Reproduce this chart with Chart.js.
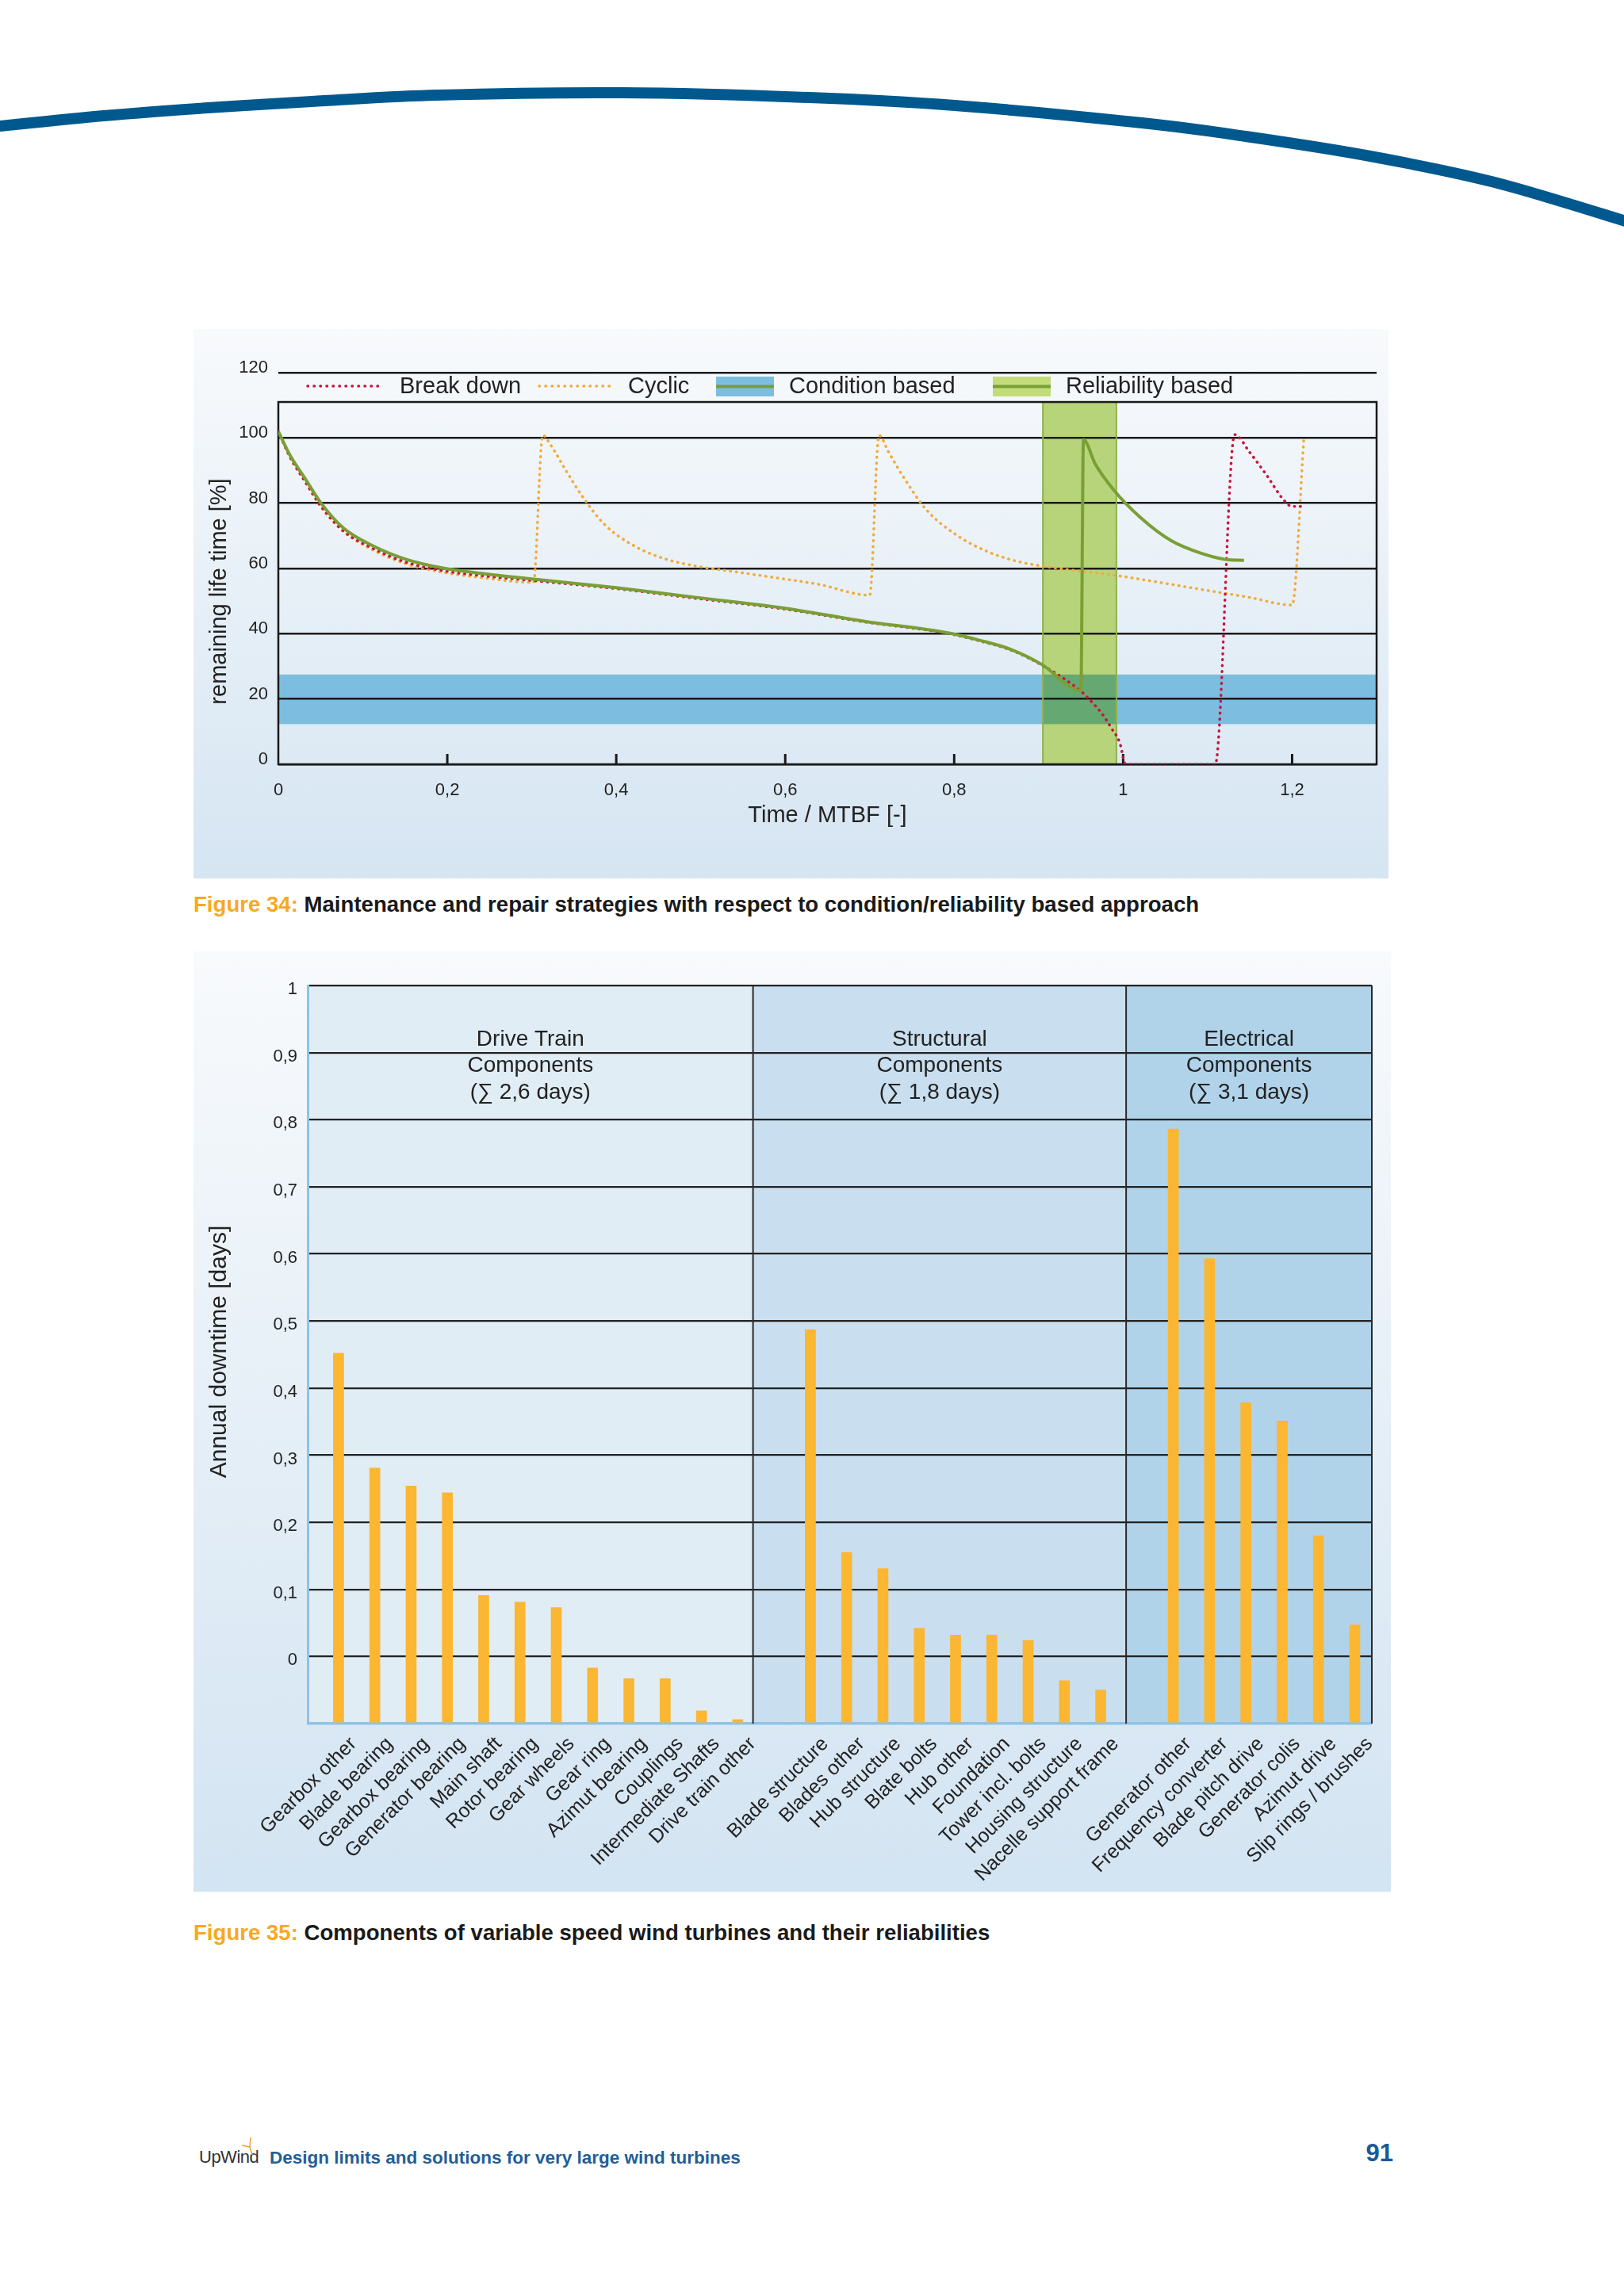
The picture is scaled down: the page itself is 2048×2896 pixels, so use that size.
<!DOCTYPE html>
<html>
<head>
<meta charset="utf-8">
<script src="https://cdn.jsdelivr.net/npm/chart.js@4.4.1/dist/chart.umd.min.js"></script>
<style>
  html, body { margin: 0; padding: 0; background: #fff; }
  body { width: 2048px; height: 2896px; position: relative; overflow: hidden;
         font-family: "Liberation Sans", Arial, sans-serif; }
  .panel { position: absolute; }
  #p1 { left: 244px; top: 415px; width: 1507px; height: 693px; background: linear-gradient(#f8fafc, #d5e5f2); }
  #p2 { left: 244px; top: 1200px; width: 1510px; height: 1186px; background: linear-gradient(#f8fafc, #d3e4f2); }
  .cap { position: absolute; left: 244px; font-size: 27.6px; font-weight: bold; color: #1a1a1a;
         white-space: nowrap; line-height: 1; }
  .cap span { color: #f7a823; }
  #foot { position: absolute; left: 340px; top: 2711px; font-size: 22.5px; font-weight: bold;
          color: #1f5e99; white-space: nowrap; line-height: 1; }
  #logo { position: absolute; left: 251px; top: 2710px; font-family: "Liberation Sans Narrow", "Liberation Sans", sans-serif;
          font-size: 22px; color: #333; line-height: 1; letter-spacing: -0.5px; }
  #page { position: absolute; right: 291px; top: 2700px; font-size: 31px; font-weight: bold; color: #1b5a96; line-height: 1; }
</style>
</head>
<body>
<svg width="2048" height="320" style="position:absolute;left:0;top:0">
  <path id="arc" fill="none" stroke="#00598e" stroke-width="14"/>
</svg>

<div class="panel" id="p1"><canvas id="lifeChart"></canvas></div>
<div class="cap" style="top:1127px"><span>Figure 34:</span> Maintenance and repair strategies with respect to condition/reliability based approach</div>

<div class="panel" id="p2"><canvas id="downtimeChart"></canvas></div>
<div class="cap" style="top:2424px"><span>Figure 35:</span> Components of variable speed wind turbines and their reliabilities</div>

<div id="logo">UpWind</div>
<svg width="30" height="30" style="position:absolute;left:300px;top:2694px">
  <path d="M16 2 L15 14 M15 14 L5 12 M15 14 L18 24" stroke="#f0a030" stroke-width="1.5" fill="none"/>
</svg>
<div id="foot">Design limits and solutions for very large wind turbines</div>
<div id="page">91</div>

<script>
// ---------- Figure 34: remaining life time ----------
const timeTicks = [0, 0.2, 0.4, 0.6, 0.8, 1, 1.2];
const lifeTicks = [0, 20, 40, 60, 80, 100, 120];
const conditionBand = [12.3, 27.5];        // remaining life range [%]
const reliabilityWindow = [0.905, 0.992];  // Time / MTBF

const breakdownX = [0, 0.014, 0.032, 0.05, 0.077, 0.113, 0.15, 0.195, 0.24, 0.3, 0.4, 0.495, 0.595, 0.694, 0.794,
  0.83, 0.867, 0.903, 0.95, 0.961, 0.975, 0.986, 0.996, 1.003, 1.109, 1.132, 1.15, 1.17, 1.19, 1.2, 1.21];
const breakdownY = [102, 94, 86.5, 79.2, 71.5, 66, 62, 59.3, 57.8, 56.3, 53.8, 50.8, 47.7, 43.6, 40,
  37.8, 35, 30.5, 22.4, 19.6, 15.5, 11.1, 6.6, 0, 0, 101, 95.5, 88.5, 81, 79, 79];

const cyclicX = [0, 0.014, 0.032, 0.05, 0.077, 0.113, 0.15, 0.195, 0.24, 0.302, 0.313, 0.322, 0.34, 0.359, 0.386,
  0.422, 0.458, 0.495, 0.54, 0.585, 0.64, 0.7, 0.711, 0.722, 0.74, 0.767, 0.803, 0.84, 0.876, 0.921,
  0.985, 1.039, 1.094, 1.148, 1.2, 1.214];
const cyclicY = [102, 94, 86.5, 79, 71.3, 65.5, 61.5, 58.8, 57.2, 55.7, 100.8, 98, 90.2, 82.4, 73.5,
  66.8, 62.9, 60.7, 59, 57.3, 55.1, 51.8, 100.8, 95.8, 88, 78, 70.2, 65.1, 62.1, 60.1,
  58.1, 55.9, 53.5, 51.2, 48.8, 100.2];

const reliabilityX = [0, 0.014, 0.032, 0.05, 0.077, 0.113, 0.15, 0.195, 0.24, 0.3, 0.4, 0.495, 0.595, 0.694, 0.794,
  0.83, 0.867, 0.903, 0.95, 0.953, 0.967, 0.989, 1.021, 1.057, 1.094, 1.12, 1.143];
const reliabilityY = [102, 94.6, 87.4, 80.2, 72.4, 66.8, 62.9, 60.1, 58.5, 56.8, 54.1, 51.1, 48, 43.8, 40.2,
  38, 35.2, 30.7, 22.6, 99.5, 92, 84, 75.5, 68.5, 64.5, 62.8, 62.5];

// ---------- Figure 35: annual downtime ----------
const driveLabels = ['Gearbox other', 'Blade bearing', 'Gearbox bearing', 'Generator bearing', 'Main shaft',
  'Rotor bearing', 'Gear wheels', 'Gear ring', 'Azimut bearing', 'Couplings', 'Intermediate Shafts', 'Drive train other'];
const driveValues = [0.452, 0.281, 0.254, 0.244, 0.091, 0.081, 0.073, -0.017, -0.033, -0.033, -0.081, -0.094];
const structuralLabels = ['Blade structure', 'Blades other', 'Hub structure', 'Blate bolts', 'Hub other',
  'Foundation', 'Tower incl. bolts', 'Housing structure', 'Nacelle support frame'];
const structuralValues = [0.487, 0.155, 0.131, 0.042, 0.032, 0.032, 0.024, -0.036, -0.05];
const electricalLabels = ['Generator other', 'Frequency converter', 'Blade pitch drive', 'Generator colis',
  'Azimut drive', 'Slip rings / brushes'];
const electricalValues = [0.786, 0.593, 0.378, 0.351, 0.18, 0.047];
const sectionTitles = [
  ['Drive Train', 'Components', '(\u2211 2,6 days)'],
  ['Structural', 'Components', '(\u2211 1,8 days)'],
  ['Electrical', 'Components', '(\u2211 3,1 days)'],
];
const downtimeTicks = [0, 0.1, 0.2, 0.3, 0.4, 0.5, 0.6, 0.7, 0.8, 0.9, 1];

const FONT = '"Liberation Sans", Arial, sans-serif';
const TEXT = '#222';
Chart.defaults.font.family = FONT;
Chart.defaults.color = TEXT;

const comma = v => String(Math.round(v * 10) / 10).replace('.', ',');
const pts = (xs, ys) => xs.map((x, i) => ({ x, y: ys[i] }));

// decorative page arc
(function () {
  const p = [[-10, 160], [131, 146], [262, 136], [393, 128], [550, 120], [785, 117], [1021, 123], [1204, 133],
    [1440, 155], [1571, 172], [1728, 197], [1885, 230], [2060, 282]];
  let d = `M${p[0][0]},${p[0][1]}`;
  for (let i = 0; i < p.length - 1; i++) {
    const a = p[Math.max(i - 1, 0)], b = p[i], c = p[i + 1], e = p[Math.min(i + 2, p.length - 1)];
    d += ` C${b[0] + (c[0] - a[0]) / 6},${b[1] + (c[1] - a[1]) / 6} ${c[0] - (e[0] - b[0]) / 6},${c[1] - (e[1] - b[1]) / 6} ${c[0]},${c[1]}`;
  }
  document.getElementById('arc').setAttribute('d', d);
})();

// ---------- chart 1 ----------
const FRAME_TOP = 111;

const lifePlugin = {
  id: 'lifePlot',
  beforeDraw(chart) {
    const { ctx, scales: { x, y } } = chart;
    const bTop = y.getPixelForValue(conditionBand[1]), bBot = y.getPixelForValue(conditionBand[0]);
    const wTop = y.getPixelForValue(FRAME_TOP), wBot = y.getPixelForValue(0);
    const l = x.getPixelForValue(reliabilityWindow[0]), r = x.getPixelForValue(reliabilityWindow[1]);
    ctx.save();
    ctx.fillStyle = '#7dbde0';
    ctx.fillRect(x.left, bTop, x.right - x.left, bBot - bTop);
    ctx.fillStyle = '#b8d47b';
    ctx.fillRect(l, wTop, r - l, wBot - wTop);
    ctx.fillStyle = '#66a872';
    ctx.fillRect(l, bTop, r - l, bBot - bTop);
    ctx.restore();
  },
  beforeDatasetsDraw(chart) {
    const { ctx, scales: { x, y } } = chart;
    const top = y.getPixelForValue(FRAME_TOP), bottom = y.getPixelForValue(0);
    const l = x.getPixelForValue(reliabilityWindow[0]), r = x.getPixelForValue(reliabilityWindow[1]);
    ctx.save();
    ctx.strokeStyle = '#8fb04c';
    ctx.lineWidth = 2;
    ctx.strokeRect(l, top, r - l, bottom - top);
    ctx.strokeStyle = '#1a1a1a';
    ctx.lineWidth = 2.5;
    ctx.strokeRect(x.left, top, x.right - x.left, bottom - top);
    ctx.lineWidth = 3;
    timeTicks.slice(1).forEach(v => {
      const px = x.getPixelForValue(v);
      ctx.beginPath();
      ctx.moveTo(px, bottom);
      ctx.lineTo(px, bottom - 13);
      ctx.stroke();
    });
    ctx.restore();
  },
  afterDraw(chart) {
    const { ctx, chartArea } = chart;
    const ly = 72;
    ctx.save();
    ctx.font = '29px ' + FONT;
    ctx.fillStyle = TEXT;
    ctx.textBaseline = 'middle';
    // dotted samples
    ctx.lineWidth = 3.5;
    ctx.lineCap = 'round';
    ctx.setLineDash([0.5, 7.5]);
    [['#c8143c', 144], ['#f2aa3a', 436]].forEach(([c, x0]) => {
      ctx.strokeStyle = c;
      ctx.beginPath(); ctx.moveTo(x0, ly); ctx.lineTo(x0 + 96, ly); ctx.stroke();
    });
    ctx.setLineDash([]);
    ctx.lineCap = 'butt';
    [['#7dbde0', 659], ['#c3dc78', 1008]].forEach(([c, x0]) => {
      ctx.fillStyle = c;
      ctx.fillRect(x0, ly - 12, 73, 25);
      ctx.strokeStyle = '#779f38';
      ctx.lineWidth = 4;
      ctx.beginPath(); ctx.moveTo(x0, ly + 0.5); ctx.lineTo(x0 + 73, ly + 0.5); ctx.stroke();
    });
    ctx.fillStyle = TEXT;
    ctx.fillText('Break down', 260, ly + 1);
    ctx.fillText('Cyclic', 548, ly + 1);
    ctx.fillText('Condition based', 751, ly + 1);
    ctx.fillText('Reliability based', 1100, ly + 1);
    // axis titles
    ctx.textAlign = 'center';
    ctx.fillText('Time / MTBF [-]', (chartArea.left + chartArea.right) / 2, 614);
    ctx.translate(33, 331);
    ctx.rotate(-Math.PI / 2);
    ctx.fillText('remaining life time [%]', 0, 0);
    ctx.restore();
  }
};

new Chart(document.getElementById('lifeChart'), {
  type: 'line',
  data: {
    datasets: [
      { label: 'Reliability based', data: pts(reliabilityX, reliabilityY), borderColor: '#7a9f35', borderWidth: 4 },
      { label: 'Break down', data: pts(breakdownX, breakdownY), borderColor: '#c8143c', borderWidth: 3.5,
        borderDash: [0.5, 7], borderCapStyle: 'round' },
      { label: 'Cyclic', data: pts(cyclicX, cyclicY), borderColor: '#f2aa3a', borderWidth: 3.5,
        borderDash: [0.5, 7], borderCapStyle: 'round' },
    ],
  },
  options: {
    responsive: true,
    maintainAspectRatio: false,
    animation: false,
    layout: { padding: { left: 0, top: 55, right: 15, bottom: 44 } },
    elements: { point: { radius: 0 }, line: { cubicInterpolationMode: 'monotone', fill: false } },
    plugins: { legend: { display: false }, tooltip: { enabled: false } },
    scales: {
      x: {
        type: 'linear', min: 0, max: 1.3,
        grid: { display: false }, border: { display: false },
        afterBuildTicks: s => { s.ticks = timeTicks.map(v => ({ value: v })); },
        afterFit: s => { s.height = 100; },
        ticks: { callback: comma, padding: 12, font: { size: 22 }, maxRotation: 0 },
      },
      y: {
        min: 0, max: 120,
        afterBuildTicks: s => { s.ticks = lifeTicks.map(v => ({ value: v })); },
        afterFit: s => { s.width = 107; },
        grid: { color: '#1a1a1a', lineWidth: 2.5, drawTicks: false },
        border: { display: false },
        ticks: { padding: 13, font: { size: 22 }, labelOffset: -6 },
      },
    },
  },
  plugins: [lifePlugin],
});

// ---------- chart 2 ----------
const groups = [driveLabels, structuralLabels, electricalLabels];
const groupValues = [driveValues, structuralValues, electricalValues];
const barLabels = [], barPoints = [];
let slot = 0;
groups.forEach((labels, g) => {
  labels.forEach((name, i) => {
    barLabels.push({ x: slot, name });
    barPoints.push({ x: slot, y: groupValues[g][i] });
    slot++;
  });
  slot++; // empty slot between groups
});
const sectionEdges = [-0.85, 11.42, 21.7, 28.47];
const sectionFills = ['#e1edf5', '#c9dff0', '#b1d3ea'];

const downtimePlugin = {
  id: 'downtimePlot',
  beforeDraw(chart) {
    const { ctx, chartArea: a, scales: { x } } = chart;
    ctx.save();
    sectionFills.forEach((c, i) => {
      const l = x.getPixelForValue(sectionEdges[i]), r = x.getPixelForValue(sectionEdges[i + 1]);
      ctx.fillStyle = c;
      ctx.fillRect(l, a.top, r - l, a.bottom - a.top);
    });
    ctx.restore();
  },
  beforeDatasetsDraw(chart) {
    const { ctx, chartArea: a, scales: { x } } = chart;
    ctx.save();
    ctx.strokeStyle = '#2a2a2a';
    ctx.lineWidth = 2;
    sectionEdges.slice(1).forEach(v => {
      const px = x.getPixelForValue(v);
      ctx.beginPath(); ctx.moveTo(px, a.top); ctx.lineTo(px, a.bottom); ctx.stroke();
    });
    ctx.font = '28px ' + FONT;
    ctx.fillStyle = TEXT;
    ctx.textAlign = 'center';
    ctx.textBaseline = 'middle';
    sectionTitles.forEach((lines, i) => {
      const cx = (x.getPixelForValue(sectionEdges[i]) + x.getPixelForValue(sectionEdges[i + 1])) / 2;
      lines.forEach((t, k) => ctx.fillText(t, cx, 111 + k * 33.5));
    });
    ctx.restore();
  },
  afterDraw(chart) {
    const { ctx, chartArea: a, scales: { x } } = chart;
    ctx.save();
    ctx.font = '25px ' + FONT;
    ctx.fillStyle = TEXT;
    ctx.textAlign = 'right';
    ctx.textBaseline = 'top';
    barLabels.forEach(b => {
      ctx.save();
      ctx.translate(x.getPixelForValue(b.x) + 10, a.bottom + 13);
      ctx.rotate(-Math.PI / 4);
      ctx.fillText(b.name, 0, 0);
      ctx.restore();
    });
    ctx.font = '30px ' + FONT;
    ctx.textAlign = 'center';
    ctx.textBaseline = 'middle';
    ctx.translate(33, 505);
    ctx.rotate(-Math.PI / 2);
    ctx.fillText('Annual downtime [days]', 0, 0);
    ctx.restore();
  }
};

new Chart(document.getElementById('downtimeChart'), {
  type: 'bar',
  data: {
    datasets: [{
      data: barPoints,
      base: -0.1,
      backgroundColor: '#fbb632',
      borderWidth: 0,
      barThickness: 13,
    }],
  },
  options: {
    responsive: true,
    maintainAspectRatio: false,
    animation: false,
    layout: { padding: { left: 0, top: 43, right: 24, bottom: 212 } },
    plugins: { legend: { display: false }, tooltip: { enabled: false } },
    scales: {
      x: { type: 'linear', display: false, offset: false, min: sectionEdges[0], max: sectionEdges[3] },
      y: {
        min: -0.1, max: 1,
        afterBuildTicks: s => { s.ticks = [-0.1].concat(downtimeTicks).map(v => ({ value: v })); },
        afterFit: s => { s.width = 144; },
        grid: {
          color: c => (c.tick && c.tick.value < -0.05 ? '#8ec3e6' : '#222'),
          lineWidth: c => (c.tick && c.tick.value < -0.05 ? 3.5 : 2.2),
          drawTicks: false,
        },
        border: { display: true, color: '#8ec3e6', width: 3 },
        ticks: {
          padding: 13, font: { size: 22 }, labelOffset: 5,
          callback: v => (v < -0.05 ? '' : comma(v)),
        },
      },
    },
  },
  plugins: [downtimePlugin],
});
</script>
</body>
</html>
